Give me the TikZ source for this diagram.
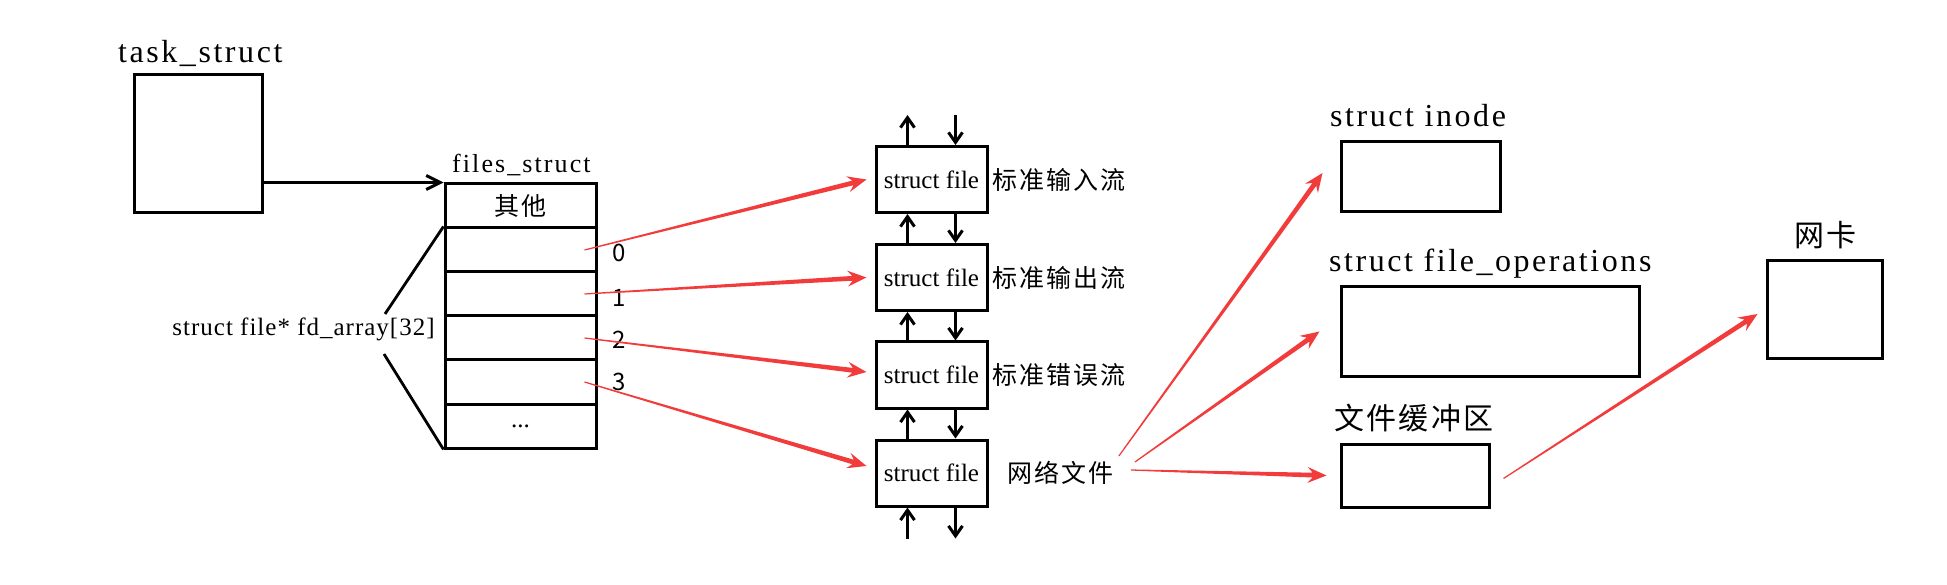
\documentclass[tikz,border=0pt]{standalone}
\usepackage{fontspec}
\setmainfont{Liberation Serif}
\newfontfamily\spaced[LetterSpace=8]{Liberation Serif}
\newfontfamily\halfspaced[LetterSpace=4]{Liberation Serif}
\newfontfamily\cjk[LetterSpace=8]{Noto Sans CJK SC}
\newfontfamily\cjkplain{Noto Sans CJK SC}
\usepackage{tikz}
\usetikzlibrary{arrows.meta,positioning,calc}
\definecolor{PtrRed}{HTML}{F23C3C}

% tapered red pointer, thin at the start, wide at the head
\newcommand\redarrow[2]{%
  \coordinate (rs) at (#1);
  \coordinate (rt) at (#2);
  \coordinate (rb) at ($(rt)!19pt!(rs)$);
  \coordinate (rn) at ($(rt)!14pt!(rs)$);
  \fill[PtrRed] ($(rs)!0.6pt!90:(rt)$) -- ($(rn)!2.4pt!90:(rt)$)
    -- ($(rb)!8pt!90:(rt)$) -- (rt) -- ($(rb)!8pt!-90:(rt)$)
    -- ($(rn)!2.4pt!-90:(rt)$) -- ($(rs)!0.6pt!-90:(rt)$) -- cycle;
}

\begin{document}
\begin{tikzpicture}[
    x=1pt, y=-1pt,
    box/.style={
      draw,
      line width=3pt,
      inner sep=0pt
    },
    cell/.style={
      box,
      minimum width=151pt,
      minimum height=44pt,
      font=\cjk\fontsize{25}{25}\selectfont
    },
    filebox/.style={
      box,
      minimum width=111pt,
      minimum height=66pt,
      font=\fontsize{25}{25}\selectfont
    },
    title/.style={
      anchor=base west,
      inner sep=0pt,
      font=\spaced\fontsize{32}{32}\selectfont
    },
    zh/.style={
      inner sep=0pt,
      font=\cjk\fontsize{25}{25}\selectfont
    },
    idx/.style={
      inner sep=0pt,
      font=\cjkplain\fontsize{24}{24}\selectfont
    },
    barrow/.style={
      -{Straight Barb[length=10pt,width=14pt]},
      line width=3pt
    }
  ]
  \useasboundingbox (0,0) rectangle (1947,585);

  % task_struct
  \node[box, minimum width=128pt, minimum height=138pt] (task) at (198,144) {};
  \node[title] (tasklbl) at (118,63) {task\_struct};

  % files_struct with its fd table
  \node[title, font=\spaced\fontsize{26}{26}\selectfont] (fileslbl) at (452,173) {files\_struct};
  \node[cell] (other) at (520.5,206) {其他};
  \node[cell] (fd0)   at (520.5,250) {};
  \node[cell] (fd1)   at (520.5,294) {};
  \node[cell] (fd2)   at (520.5,338) {};
  \node[cell] (fd3)   at (520.5,382) {};
  \node[cell] (more)  at (520.5,426) {\rmfamily ...};

  \node[anchor=base, inner sep=0pt, font=\halfspaced\fontsize{25}{25}\selectfont]
    (fdlbl) at (303.5,336) {struct file* fd\_array[32]};
  \coordinate (b1) at (385,314);
  \coordinate (b2) at (384,354);
  \draw[line width=2.8pt] (b1) -- (fd0.north west);
  \draw[line width=2.8pt] (b2) -- (more.south west);

  \draw[barrow, -{Straight Barb[length=14pt,width=14pt]}] (task.east |- other.north west) -- (other.north west);

  \foreach \i/\y in {0/253, 1/298, 2/340, 3/382}
    \node[idx] (i\i) at (619,\y) {\i};

  % struct file chain
  \foreach \i/\y in {1/179.5, 2/277.5, 3/375, 4/473}
    \node[filebox] (sf\i) at (931.5,\y) {struct file};

  \node[zh, right=4pt of sf1] (stdin)  {标准输入流};
  \node[zh, right=4pt of sf2] (stdout) {标准输出流};
  \node[zh, right=4pt of sf3] (stderr) {标准错误流};
  \node[zh, right=19pt of sf4] (net)   {网络文件};

  \foreach \a/\b in {sf1/sf2, sf2/sf3, sf3/sf4} {
    \draw[barrow] ($(\b.north)+(-24,0)$) -- ($(\a.south)+(-24,0)$);
    \draw[barrow] ($(\a.south)+(24,0)$) -- ($(\b.north)+(24,0)$);
  }
  \coordinate (upin)  at ($(sf1.north)+(-24,-30)$);
  \coordinate (dnin)  at ($(sf1.north)+(24,-30)$);
  \coordinate (upout) at ($(sf4.south)+(-24,31)$);
  \coordinate (dnout) at ($(sf4.south)+(24,31)$);
  \draw[barrow] ($(sf1.north)+(-24,0)$) -- (upin);
  \draw[barrow] (dnin) -- ($(sf1.north)+(24,0)$);
  \draw[barrow] (upout) -- ($(sf4.south)+(-24,0)$);
  \draw[barrow] ($(sf4.south)+(24,0)$) -- (dnout);

  % objects behind the network file
  \node[box, minimum width=159pt, minimum height=70pt] (inode) at (1420.5,177) {};
  \node[title] (inodelbl) at (1330,127) {struct inode};
  \node[box, minimum width=298pt, minimum height=89pt] (fops) at (1490,331.5) {};
  \node[title] (fopslbl) at (1329,272) {struct file\_operations};
  \node[box, minimum width=148pt, minimum height=63pt] (buf) at (1415,475.5) {};
  \node[zh, font=\cjk\fontsize{30}{30}\selectfont] (buflbl) at (1414,418) {文件缓冲区};
  \node[box, minimum width=115pt, minimum height=98pt] (nic) at (1824.5,310) {};
  \node[zh, font=\cjk\fontsize{30}{30}\selectfont] (niclbl) at (1825.5,235) {网卡};

  % red pointers
  \foreach \c/\f/\dy in {fd0/sf1/0, fd1/sf2/0, fd2/sf3/-3, fd3/sf4/-7}
    \redarrow{$(\c.east)+(-13,0)$}{$(\f.west)+(-8,\dy)$};
  \redarrow{$(net.east)+(5,-17)$}{$(inode.west)+(-17,-4)$}
  \redarrow{$(net.east)+(21,-11)$}{$(fops.west)+(-20,0)$}
  \redarrow{$(net.east)+(17,-3)$}{$(buf.west)+(-13,0)$}
  \redarrow{$(buf.east)+(13,3)$}{$(nic.west)+(-8,4)$}

\end{tikzpicture}
\end{document}
